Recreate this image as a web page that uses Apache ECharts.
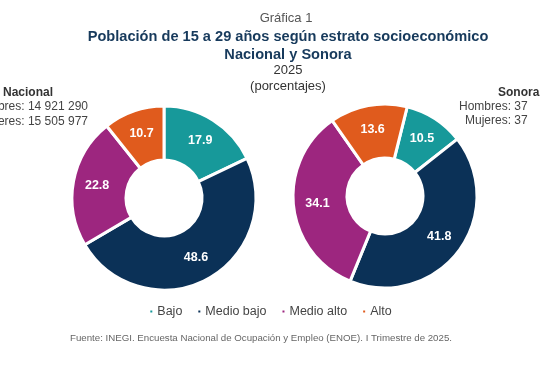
<!DOCTYPE html>
<html><head><meta charset="utf-8">
<script src="https://cdn.jsdelivr.net/npm/echarts@6/dist/echarts.min.js"></script>
<style>html,body{margin:0;padding:0;background:#fff}#c{width:540px;height:370px}</style>
</head><body><div id="c"></div>
<script>
const categories = ['Bajo', 'Medio bajo', 'Medio alto', 'Alto'];
const nacionalValues = [17.9, 48.6, 22.8, 10.7];
const sonoraValues = [10.5, 41.8, 34.1, 13.6];
const colors = ['#17999a', '#0b3157', '#9d267f', '#e05b1d'];
const titleLines = ['Gráfica 1', 'Población de 15 a 29 años según estrato socioeconómico', 'Nacional y Sonora', '2025', '(porcentajes)'];
const source = 'Fuente: INEGI. Encuesta Nacional de Ocupación y Empleo (ENOE). I Trimestre de 2025.';

const font = 'Liberation Sans, Arial, sans-serif';
function pie(name, values, cx, cy, start) {
  return {
    type: 'pie', name: name, center: [cx, cy], radius: [38, 92], startAngle: start,
    clockwise: true, avoidLabelOverlap: false,
    itemStyle: { borderColor: '#fff', borderWidth: 3 },
    label: { show: true, position: 'inside', color: '#fff', fontWeight: 'bold', fontSize: 12.5, fontFamily: font,
      formatter: p => p.value.toFixed(1) },
    labelLine: { show: false },
    emphasis: { disabled: true },
    data: categories.map((c, i) => ({ name: c, value: values[i], itemStyle: { color: colors[i] } }))
  };
}
const chart = echarts.init(document.getElementById('c'), null, { renderer: 'canvas' });
chart.setOption({
  animation: false,
  color: colors,
  title: [
    { text: titleLines[0], left: 281, top: 7, textAlign: 'center', textStyle: { fontFamily: font, fontSize: 13, fontWeight: 'normal', color: '#555' } },
    { text: titleLines[1], left: 283, top: 24, textAlign: 'center', textStyle: { fontFamily: font, fontSize: 14.6, fontWeight: 'bold', color: '#173a5c' } },
    { text: titleLines[2], left: 283, top: 42, textAlign: 'center', textStyle: { fontFamily: font, fontSize: 14.6, fontWeight: 'bold', color: '#173a5c' } },
    { text: titleLines[3], left: 283, top: 59, textAlign: 'center', textStyle: { fontFamily: font, fontSize: 13, fontWeight: 'normal', color: '#333' } },
    { text: titleLines[4], left: 283, top: 75, textAlign: 'center', textStyle: { fontFamily: font, fontSize: 13, fontWeight: 'normal', color: '#333' } },
    { text: source, left: 256, top: 328, textAlign: 'center', textStyle: { fontFamily: font, fontSize: 9.7, fontWeight: 'normal', color: '#666' } }
  ],
  graphic: [
    { type: 'text', left: 3, top: 87, style: { text: 'Nacional', font: 'bold 12px ' + font, fill: '#333' } },
    { type: 'text', right: 452, top: 101, style: { text: 'Hombres: 14 921 290', font: '12px ' + font, fill: '#444', textAlign: 'right' } },
    { type: 'text', right: 452, top: 116, style: { text: 'Mujeres: 15 505 977', font: '12px ' + font, fill: '#444', textAlign: 'right' } },
    { type: 'text', left: 498, top: 87, style: { text: 'Sonora', font: 'bold 12px ' + font, fill: '#333' } },
    { type: 'text', left: 459, top: 101, style: { text: 'Hombres: 37', font: '12px ' + font, fill: '#444' } },
    { type: 'text', left: 465, top: 115, style: { text: 'Mujeres: 37', font: '12px ' + font, fill: '#444' } }
  ],
  legend: {
    data: categories, left: 'center', top: 300, icon: 'rect', itemWidth: 4, itemHeight: 4, itemGap: 14,
    textStyle: { fontFamily: font, fontSize: 12.5, color: '#444', padding: [0, 0, 0, -1] },
    selectedMode: false
  },
  series: [pie('Nacional', nacionalValues, 164, 198, 90), pie('Sonora', sonoraValues, 385, 196, 76)]
});
</script></body></html>
